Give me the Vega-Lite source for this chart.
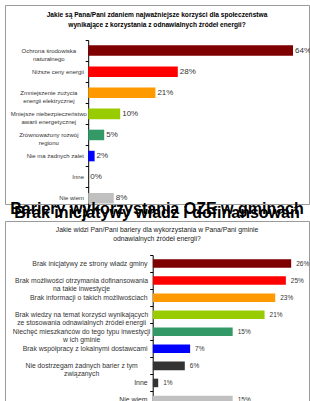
{
  "$schema": "https://vega.github.io/schema/vega-lite/v6.json",
  "background": "white",
  "padding": {"left": 4, "top": 4, "right": 0, "bottom": 0},
  "bounds": "flush",
  "spacing": 17,
  "config": {
    "view": {"stroke": "#9a9a9a", "strokeWidth": 1},
    "font": "Liberation Sans",
    "text": {"font": "Liberation Sans", "lineBreak": "\n"}
  },
  "vconcat": [
    {
      "width": 304,
      "height": 199,
      "title": {
        "text": ["Jakie są Pana/Pani zdaniem najważniejsze korzyści dla społeczeństwa", "wynikające z korzystania z odnawialnych źródeł energii?"],
        "anchor": "middle",
        "frame": "group",
        "fontSize": 6.6,
        "fontWeight": "bold",
        "font": "Liberation Sans",
        "color": "#000000",
        "lineHeight": 10.5,
        "offset": -24
      },
      "data": {"values": [
        {"label": "Ochrona środowiska\nnaturalnego", "value": 64},
        {"label": "Niższe ceny energii", "value": 28},
        {"label": "Zmniejszenie zużycia\nenergii elektrycznej", "value": 21},
        {"label": "Mniejsze niebezpieczeństwo\nawarii energetycznej", "value": 10},
        {"label": "Zrównoważony rozwój\nregionu", "value": 5},
        {"label": "Nie ma żadnych zalet", "value": 2},
        {"label": "Inne", "value": 0},
        {"label": "Nie wiem", "value": 8}
      ]},
      "transform": [{"calculate": "datum.value + '%'", "as": "pct"}],
      "encoding": {
        "y": {
          "field": "label", "type": "nominal", "sort": null,
          "scale": {"range": [35, 203.8], "paddingInner": 0.5, "paddingOuter": 0.25},
          "axis": {"title": null, "labels": false, "grid": false, "offset": -83.2, "domainColor": "#000000", "tickColor": "#000000", "tickSize": 3, "bandPosition": -0.5}
        }
      },
      "layer": [
        {
          "mark": {"type": "bar"},
          "encoding": {
            "x": {"field": "value", "type": "quantitative", "scale": {"domain": [-26, 69], "nice": false, "zero": false}, "axis": null},
            "color": {"field": "label", "type": "nominal", "sort": null, "legend": null,
              "scale": {"domain": ["Ochrona środowiska\nnaturalnego", "Niższe ceny energii", "Zmniejszenie zużycia\nenergii elektrycznej", "Mniejsze niebezpieczeństwo\nawarii energetycznej", "Zrównoważony rozwój\nregionu", "Nie ma żadnych zalet", "Inne", "Nie wiem"],
                "range": ["#7f0000", "#ff0000", "#ff9900", "#99cc00", "#339966", "#0000ff", "#333333", "#c0c0c0"]}}
          }
        },
        {
          "mark": {"type": "text", "align": "left", "baseline": "middle", "dx": 2, "fontSize": 8, "color": "#333333"},
          "encoding": {
            "x": {"field": "value", "type": "quantitative"},
            "text": {"field": "pct"}
          }
        },
        {
          "transform": [{"filter": "indexof(datum.label, '\\n') < 0"}],
          "mark": {"type": "text", "align": "right", "baseline": "middle", "fontSize": 6, "color": "#333333"},
          "encoding": {
            "x": {"datum": -1.3},
            "text": {"field": "label"}
          }
        },
        {
          "transform": [{"filter": "indexof(datum.label, '\\n') >= 0"}],
          "mark": {"type": "text", "align": "center", "baseline": "middle", "fontSize": 6, "lineHeight": 8, "color": "#333333"},
          "encoding": {
            "x": {"datum": -12.3},
            "text": {"field": "label"}
          }
        }
      ]
    },
    {
      "width": 304,
      "height": 190,
      "title": {
        "text": ["Bariery wykorzystania OZE w gminach", "Brak inicjatywy władz i dofinansowań"],
        "subtitle": ["Jakie widzi Pan/Pani bariery  dla wykorzystania w Pana/Pani gminie", "odnawialnych źródeł energii?"],
        "anchor": "middle",
        "frame": "group",
        "fontSize": 16,
        "fontWeight": "bold",
        "font": "Liberation Sans",
        "color": "#000000",
        "lineHeight": 4,
        "subtitleFontSize": 6.8,
        "subtitleFont": "Liberation Sans",
        "subtitleColor": "#222222",
        "subtitleLineHeight": 9,
        "subtitlePadding": 6,
        "offset": -22
      },
      "data": {"values": [
        {"label": "Brak inicjatywy ze strony władz gminy", "value": 26},
        {"label": "Brak możliwości otrzymania dofinansowania\nna takie inwestycje", "value": 25},
        {"label": "Brak informacji o takich możliwościach", "value": 23},
        {"label": "Brak wiedzy na temat korzyści wynikających\nze stosowania odnawialnych źródeł energii", "value": 21},
        {"label": "Niechęć mieszkańców do tego typu inwestycji\nw ich gminie", "value": 15},
        {"label": "Brak współpracy z lokalnymi dostawcami", "value": 7},
        {"label": "Nie dostrzegam żadnych barier z tym\nzwiązanych", "value": 6},
        {"label": "Inne", "value": 1},
        {"label": "Nie wiem", "value": 15}
      ]},
      "transform": [{"calculate": "datum.value + '%'", "as": "pct"}],
      "encoding": {
        "y": {
          "field": "label", "type": "nominal", "sort": null,
          "scale": {"range": [34, 187.5], "paddingInner": 0.5, "paddingOuter": 0.25},
          "axis": {"title": null, "labels": false, "grid": false, "offset": -147.7, "domainColor": "#000000", "tickColor": "#000000", "tickSize": 3, "bandPosition": -0.5}
        }
      },
      "layer": [
        {
          "mark": {"type": "bar"},
          "encoding": {
            "x": {"field": "value", "type": "quantitative", "scale": {"domain": [-27.8, 29.35], "nice": false, "zero": false}, "axis": null},
            "color": {"field": "label", "type": "nominal", "sort": null, "legend": null,
              "scale": {"domain": ["Brak inicjatywy ze strony władz gminy", "Brak możliwości otrzymania dofinansowania\nna takie inwestycje", "Brak informacji o takich możliwościach", "Brak wiedzy na temat korzyści wynikających\nze stosowania odnawialnych źródeł energii", "Niechęć mieszkańców do tego typu inwestycji\nw ich gminie", "Brak współpracy z lokalnymi dostawcami", "Nie dostrzegam żadnych barier z tym\nzwiązanych", "Inne", "Nie wiem"],
                "range": ["#7f0000", "#ff0000", "#ff9900", "#99cc00", "#339966", "#33cccc", "#0000ff", "#000000", "#c0c0c0"]}}
          }
        },
        {
          "mark": {"type": "text", "align": "left", "baseline": "middle", "dx": 5, "fontSize": 6.5, "color": "#333333"},
          "encoding": {
            "x": {"field": "value", "type": "quantitative"},
            "text": {"field": "pct"}
          }
        },
        {
          "transform": [{"filter": "indexof(datum.label, '\\n') < 0"}],
          "mark": {"type": "text", "align": "right", "baseline": "middle", "fontSize": 6.9, "color": "#333333"},
          "encoding": {
            "x": {"datum": -1},
            "text": {"field": "label"}
          }
        },
        {
          "transform": [{"filter": "indexof(datum.label, '\\n') >= 0"}],
          "mark": {"type": "text", "align": "center", "baseline": "middle", "fontSize": 6.8, "lineHeight": 8, "color": "#333333"},
          "encoding": {
            "x": {"datum": -13.4},
            "text": {"field": "label"}
          }
        }
      ]
    }
  ]
}
